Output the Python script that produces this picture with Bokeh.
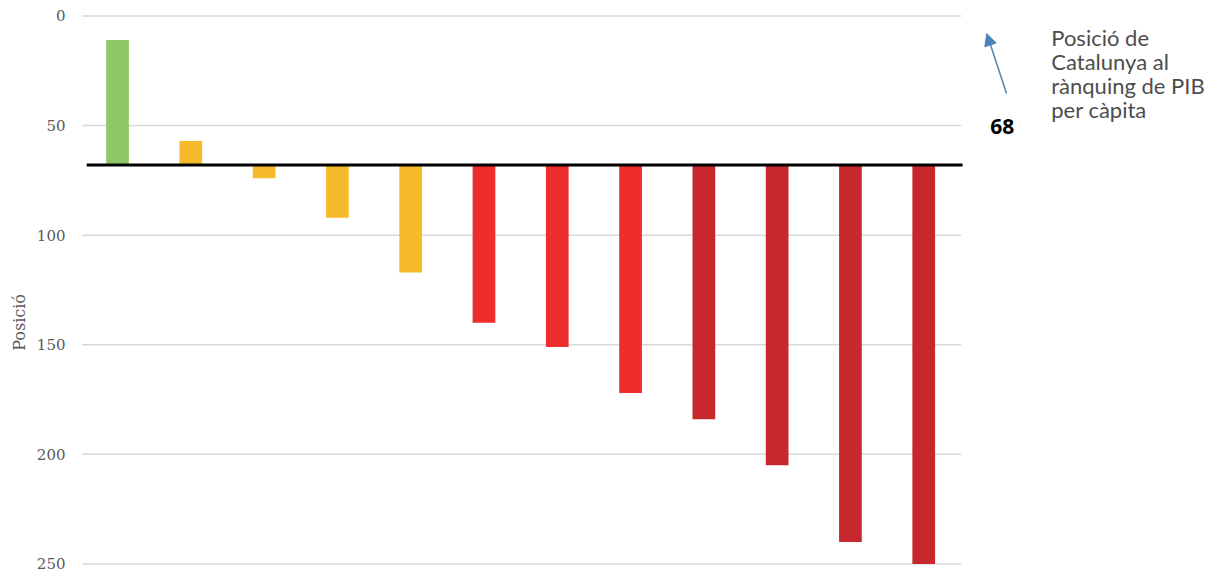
import math
from bokeh.plotting import figure
from bokeh.layouts import row
from bokeh.models import Range1d, FixedTicker, Arrow, NormalHead
from bokeh.core.properties import value
from bokeh.embed import file_html
from bokeh.resources import INLINE

# posició al rànquing de PIB per càpita de cada país comparat
positions = [11, 57, 74, 92, 117, 140, 151, 172, 184, 205, 240, 250]
groups = ["millor", "proper", "proper", "proper", "proper",
          "lluny", "lluny", "lluny", "molt lluny", "molt lluny", "molt lluny", "molt lluny"]
catalunya = 68
y_ticks = [0, 50, 100, 150, 200, 250]
note_lines = ["Posició de", "Catalunya al", "rànquing de PIB", "per càpita"]

group_colors = {"millor": "#8cc966", "proper": "#f5bb2b",
                "lluny": "#ee2e2d", "molt lluny": "#c7282e"}
colors = [group_colors[g] for g in groups]
idx = list(range(len(positions)))

y_range = Range1d(253.9, -3.42)

p = figure(width=1182, height=572, output_backend="svg", toolbar_location=None,
           x_range=Range1d(-0.505, 14.94), y_range=y_range,
           min_border_left=50, min_border_right=0, min_border_top=8, min_border_bottom=0)
p.outline_line_color = None
p.xaxis.visible = False
p.xgrid.visible = False
p.ygrid.visible = False

# eix Y
p.yaxis.ticker = FixedTicker(ticks=y_ticks)
p.yaxis.axis_line_color = None
p.yaxis.major_tick_line_color = None
p.yaxis.minor_tick_line_color = None
p.yaxis.major_tick_out = 0
p.yaxis.major_tick_in = 0
p.yaxis.minor_tick_out = 0
p.yaxis.major_label_standoff = 15
p.yaxis.major_label_text_font = "DejaVu Serif"
p.yaxis.major_label_text_font_size = "15px"
p.yaxis.major_label_text_color = "#595959"

# línies de graella
p.segment(x0=-0.48, y0=y_ticks, x1=11.51, y1=y_ticks, line_color="#d9d9d9", line_width=1.5)

# barres des de la posició de Catalunya
p.vbar(x=idx, bottom=catalunya, top=positions, width=0.31,
       fill_color=colors, line_color=None)

p.segment(x0=-0.42, y0=catalunya, x1=11.53, y1=catalunya, line_color="black", line_width=3)

# anotació
p.text(x=[12.07], y=[50.5], text=[str(catalunya)], text_font=value("Open Sans"),
       text_font_style="bold", text_font_size="21px", text_color="black",
       text_align="center", text_baseline="alphabetic")
p.add_layout(Arrow(end=NormalHead(size=12, fill_color="#4a86b8", line_color="#4a86b8"),
                   x_start=12.13, y_start=35.4, x_end=11.86, y_end=8.0,
                   line_color="#4a86b8", line_width=1.5))
p.text(x=[12.74] * 4, y=[9.8, 20.8, 31.7, 42.7], text=note_lines,
       text_font=value("Lato"), text_font_size="22px", text_color="#4d4d4d",
       text_align="left", text_baseline="alphabetic")

# títol de l'eix, en una franja a l'esquerra
lab = figure(width=30, height=572, output_backend="svg", toolbar_location=None,
             x_range=Range1d(0, 30), y_range=y_range,
             min_border_left=0, min_border_right=0, min_border_top=8, min_border_bottom=0)
lab.axis.visible = False
lab.grid.visible = False
lab.outline_line_color = None
lab.text(x=[19], y=[139.8], text=["Posició"], angle=math.pi / 2,
         text_align="center", text_baseline="middle",
         text_font=value("DejaVu Serif"), text_font_size="16px", text_color="#595959")

layout = row(lab, p, spacing=0)
open("out.html", "w").write(file_html(layout, INLINE))
